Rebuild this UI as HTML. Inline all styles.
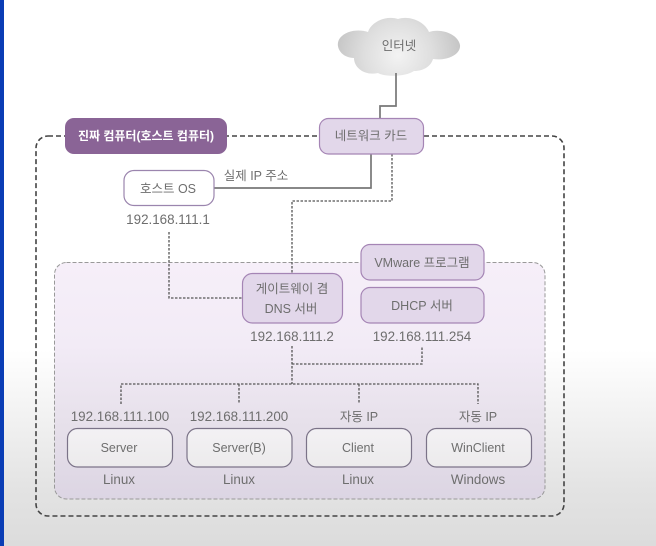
<!DOCTYPE html>
<html><head><meta charset="utf-8">
<style>
html,body{margin:0;padding:0;background:#fff}
#p{position:relative;width:656px;height:546px;overflow:hidden;background:linear-gradient(180deg,#fff 0,#fff 350px,#f1f1f1 420px,#e3e3e3 490px,#dcdcdc 546px)}
#band{position:absolute;left:0;top:0;width:4px;height:546px;background:#0a3db5}
svg{position:absolute;left:0;top:0;filter:blur(.35px)}
text{font-family:"Liberation Sans","Noto Sans CJK KR",sans-serif;font-size:12.5px;fill:#6e6e6e;text-anchor:middle}
text.n{font-size:13.4px}
</style></head><body><div id="p"><div id="band"></div>
<svg width="656" height="546" viewBox="0 0 656 546">
<defs>
<linearGradient id="inner" x1="0" y1="0" x2="0" y2="1"><stop offset="0" stop-color="#f6eff9"/><stop offset=".35" stop-color="#f2ebf6"/><stop offset=".7" stop-color="#e6e0ea"/><stop offset="1" stop-color="#dcd5e3"/></linearGradient>
<radialGradient id="cloud" gradientUnits="userSpaceOnUse" cx="398" cy="55" r="62"><stop offset="0" stop-color="#f3f3f3"/><stop offset=".55" stop-color="#dedede"/><stop offset="1" stop-color="#c6c6c6"/></radialGradient>
<linearGradient id="srv" x1="0" y1="0" x2="0" y2="1"><stop offset="0" stop-color="#f3f1f4"/><stop offset="1" stop-color="#ecebec"/></linearGradient>
</defs>
<rect x="36" y="136" width="528" height="380" rx="12" fill="none" stroke="#444" stroke-width="1.600" stroke-dasharray="5 3"/>
<rect x="54.500" y="262.500" width="490.500" height="236.500" rx="12" fill="url(#inner)" stroke="#999" stroke-width="1" stroke-dasharray="4 2"/>
<path fill="url(#cloud)" d="M354 58C341 58 334 46 340 38C346 30 360 29 368 32C371 22 386 15 398 19C410 15 425 22 429 32C441 28 458 34 460 45C461 55 446 61 433 59C431 66 424 71 414 71C405 77 385 77 378 73C365 76 354 68 354 58Z"/>
<g fill="none" stroke="#777" stroke-width="1.700">
<path d="M396 73V106H380V118"/>
<path d="M371 154V188H214"/>
</g>
<g fill="none" stroke="#555" stroke-width="1.300" stroke-dasharray="2.500 1.500">
<path d="M392 154V201H292V273"/>
<path d="M169 232V298H242"/>
<path d="M292 346V384"/>
<path d="M292 364H422V346"/>
<path d="M121 404V384H478V404"/>
<path d="M239 384V404"/>
<path d="M359 384V404"/>
</g>
<rect x="65" y="118" width="162" height="36" rx="9" fill="#8a6496"/>
<g fill="#e2d7ea" stroke="#a585b5" stroke-width="1.200">
<rect x="319.500" y="118.500" width="104" height="35.500" rx="9"/>
<rect x="242.500" y="273.500" width="100" height="49.500" rx="10"/>
<rect x="361" y="244.500" width="123" height="35.500" rx="9"/>
<rect x="361" y="287.500" width="123" height="35.500" rx="9"/>
</g>
<rect x="124" y="170.500" width="90" height="35" rx="10" fill="#fff" stroke="#9b85ae" stroke-width="1.200"/>
<g fill="url(#srv)" stroke="#7b7388" stroke-width="1.200">
<rect x="67.500" y="428.500" width="105" height="38.500" rx="10"/>
<rect x="187" y="428.500" width="105" height="38.500" rx="10"/>
<rect x="306.500" y="428.500" width="105" height="38.500" rx="10"/>
<rect x="426.500" y="428.500" width="105" height="38.500" rx="10"/>
</g>
<text x="399" y="50">인터넷</text>
<text x="146" y="140" style="fill:#fff;font-size:12px;font-weight:bold">진짜 컴퓨터(호스트 컴퓨터)</text>
<text x="371" y="140">네트워크 카드</text>
<text x="168" y="193">호스트 OS</text>
<text x="256" y="180">실제 IP 주소</text>
<text class="n" x="168" y="224">192.168.111.1</text>
<text x="292" y="293">게이트웨이 겸</text>
<text x="291" y="313">DNS 서버</text>
<text x="422" y="267">VMware 프로그램</text>
<text x="422" y="310">DHCP 서버</text>
<text class="n" x="292" y="341">192.168.111.2</text>
<text class="n" x="422" y="341">192.168.111.254</text>
<text class="n" x="120" y="421">192.168.111.100</text>
<text class="n" x="239" y="421">192.168.111.200</text>
<text x="359" y="421">자동 IP</text>
<text x="478" y="421">자동 IP</text>
<text x="119" y="452">Server</text>
<text x="239" y="452">Server(B)</text>
<text x="358" y="452">Client</text>
<text x="478" y="452">WinClient</text>
<text class="n" x="119" y="484">Linux</text>
<text class="n" x="239" y="484">Linux</text>
<text class="n" x="358" y="484">Linux</text>
<text class="n" x="478" y="484">Windows</text>
</svg></div></body></html>
